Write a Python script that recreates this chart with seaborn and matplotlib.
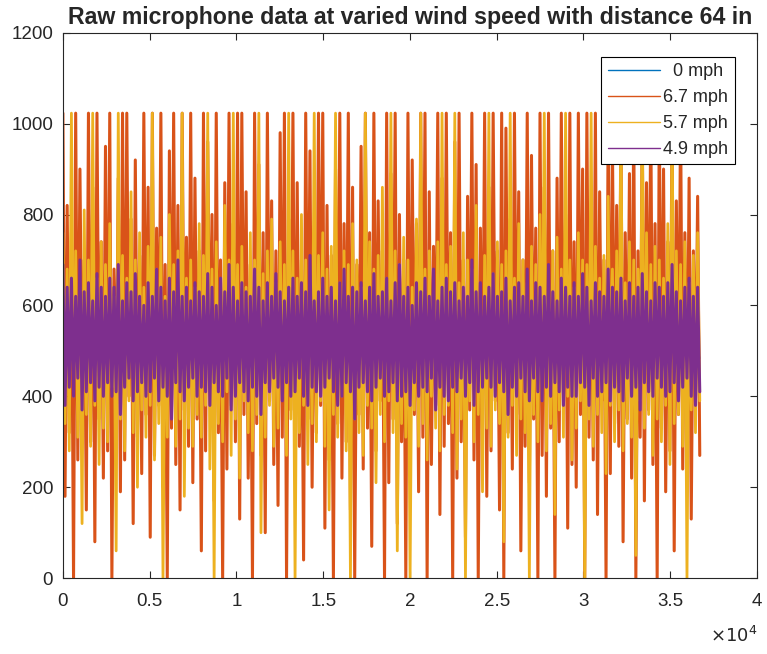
import numpy as np
import pandas as pd
import seaborn as sns
import matplotlib.pyplot as plt

# readings: alternating peak / trough of each wiggle
labels = ['  0 mph', '6.7 mph', '5.7 mph', '4.9 mph']
colors = ['#0072BD', '#D95319', '#EDB120', '#7E2F8E']
widths = [1.2, 2.2, 2.0, 2.2]
n_samples = 36700

blue_hi = [555, 560, 548, 570, 552, 562, 545, 566, 558, 550,
           564, 547, 559, 572, 553, 561, 549, 567, 556, 544,
           563, 551, 569, 557, 546, 565, 554, 560, 548, 571,
           552, 562, 545, 566, 558, 550, 564, 547, 559, 556]
blue_lo = [482, 475, 490, 470, 486, 478, 493, 472, 484, 480,
           468, 488, 476, 491, 473, 485, 479, 494, 471, 483,
           477, 489, 474, 487, 481, 466, 492, 476, 485, 479,
           470, 488, 483, 474, 491, 478, 486, 472, 480, 484]

orange_hi = [1023, 820, 760, 1023, 900, 700, 1023, 860, 1023, 740,
             950, 1023, 680, 880, 1023, 1023, 790, 920, 710, 1023,
             860, 1023, 770, 1023, 690, 940, 1023, 820, 1023, 750,
             1023, 880, 720, 1023, 960, 800, 1023, 700, 870, 1023,
             780, 1023, 1023, 850, 690, 1023, 910, 760, 1023, 830,
             720, 980, 1023, 790, 1023, 870, 700, 1023, 940, 760,
             1023, 1023, 820, 710, 900, 1023, 780, 1023, 860, 690,
             950, 1023, 760, 1023, 830, 720, 1023, 890, 1023, 800,
             700, 1023, 920, 780, 1023, 1023, 850, 730, 1023, 880,
             1023, 760, 960, 1023, 700, 840, 1023, 910, 770, 1023,
             860, 1023, 720, 1023, 990, 790, 1023, 850, 700, 1023,
             930, 770, 1023, 860, 1023, 720, 880, 1023, 800, 1023,
             740, 1023, 900, 1023, 780, 1023, 850, 700, 1023, 960,
             820, 1023, 760, 890, 1023, 720, 1023, 870, 1023, 780,
             1023, 900, 740, 1023, 830, 1023, 760, 880, 720, 840]
orange_lo = [180, 320, 0, 260, 390, 150, 300, 80, 350, 220,
             280, 0, 340, 190, 260, 400, 120, 310, 230, 360,
             90, 270, 380, 200, 0, 330, 250, 150, 370, 290,
             210, 350, 60, 280, 400, 170, 320, 0, 240, 380,
             300, 130, 360, 220, 0, 340, 270, 100, 390, 250,
             160, 310, 0, 370, 230, 290, 40, 350, 200, 320,
             380, 110, 260, 0, 340, 220, 300, 150, 0, 360,
             240, 330, 70, 280, 390, 0, 210, 350, 120, 300,
             0, 270, 360, 190, 310, 0, 250, 380, 140, 290,
             340, 0, 220, 300, 90, 370, 260, 0, 330, 180,
             280, 390, 150, 0, 320, 240, 360, 60, 290, 210,
             350, 0, 270, 180, 330, 0, 300, 380, 110, 250,
             200, 360, 0, 310, 260, 140, 390, 0, 230, 340,
             290, 80, 350, 220, 0, 310, 170, 370, 250, 0,
             330, 190, 280, 60, 360, 240, 310, 130, 380, 270]

yellow_hi = [760, 680, 1023, 720, 640, 810, 700, 1023, 660, 740,
             690, 780, 620, 1023, 710, 660, 850, 700, 760, 640,
             730, 1023, 680, 750, 620, 800, 690, 720, 1023, 660,
             700, 640, 780, 710, 1023, 680, 740, 650, 820, 700,
             1023, 690, 730, 640, 760, 700, 1023, 670, 720, 790,
             650, 740, 690, 1023, 720, 660, 800, 700, 640, 1023,
             710, 760, 680, 730, 1023, 650, 720, 690, 780, 700,
             640, 1023, 740, 680, 710, 860, 660, 1023, 720, 690,
             750, 700, 640, 790, 1023, 680, 720, 660, 740, 1023,
             690, 730, 1023, 650, 760, 700, 680, 820, 640, 710,
             1023, 670, 740, 690, 720, 1023, 660, 780, 700, 650,
             730, 690, 800, 1023, 660, 720, 750, 680, 1023, 700,
             640, 760, 700, 690, 1023, 730, 660, 710, 840, 680,
             720, 1023, 650, 740, 700, 680, 1023, 760, 690, 730,
             700, 660, 780, 1023, 720, 690, 740, 650, 710, 760]
yellow_lo = [340, 280, 400, 310, 120, 360, 290, 380, 250, 330,
             300, 420, 60, 350, 280, 390, 320, 200, 370, 310,
             380, 260, 340, 0, 310, 400, 290, 350, 180, 330,
             290, 360, 310, 380, 240, 0, 340, 300, 410, 270,
             350, 220, 390, 320, 280, 360, 100, 310, 380, 290,
             330, 400, 270, 350, 0, 320, 380, 250, 340, 300,
             390, 290, 150, 360, 310, 400, 280, 0, 350, 320,
             270, 380, 330, 210, 360, 300, 390, 320, 60, 340,
             310, 0, 370, 290, 340, 260, 400, 330, 280, 360,
             380, 320, 240, 350, 0, 390, 300, 360, 190, 330,
             290, 370, 340, 80, 310, 380, 270, 350, 320, 0,
             360, 300, 390, 280, 340, 140, 370, 310, 400, 260,
             330, 390, 0, 350, 290, 360, 320, 230, 380, 300,
             370, 280, 340, 310, 50, 390, 330, 360, 270, 350,
             300, 380, 250, 340, 360, 290, 0, 370, 320, 390]

purple_hi = [690, 640, 660, 620, 700, 630, 650, 610, 670, 640,
             620, 660, 640, 690, 610, 650, 630, 670, 620, 600,
             650, 620, 680, 640, 610, 660, 630, 700, 620, 640,
             610, 650, 630, 620, 670, 640, 600, 660, 630, 690,
             640, 610, 650, 630, 620, 680, 640, 610, 650, 620,
             670, 630, 610, 640, 660, 620, 650, 630, 710, 610,
             630, 660, 620, 640, 610, 650, 680, 620, 640, 630,
             650, 610, 640, 670, 620, 630, 660, 610, 650, 690,
             620, 640, 600, 650, 630, 660, 620, 680, 610, 640,
             660, 630, 650, 610, 640, 620, 700, 630, 650, 620,
             640, 670, 620, 630, 660, 610, 640, 650, 620, 680,
             610, 650, 640, 620, 690, 630, 610, 660, 640, 620,
             650, 620, 670, 640, 610, 650, 630, 620, 680, 640,
             630, 660, 610, 650, 620, 640, 670, 630, 610, 650,
             640, 620, 650, 690, 630, 610, 640, 660, 620, 640]
purple_lo = [380, 420, 400, 440, 370, 410, 430, 390, 420, 400,
             430, 400, 410, 360, 420, 440, 390, 410, 430, 400,
             410, 440, 390, 420, 400, 350, 430, 410, 390, 420,
             440, 400, 420, 410, 380, 430, 410, 400, 440, 370,
             400, 430, 410, 390, 420, 400, 360, 430, 410, 440,
             420, 390, 430, 400, 410, 440, 400, 380, 420, 410,
             400, 420, 440, 410, 380, 400, 430, 410, 350, 420,
             430, 410, 390, 420, 440, 400, 410, 430, 390, 400,
             410, 380, 430, 400, 420, 410, 440, 370, 420, 400,
             390, 420, 410, 440, 400, 430, 380, 410, 420, 440,
             420, 400, 430, 410, 360, 420, 400, 440, 410, 390,
             440, 410, 390, 420, 400, 430, 410, 380, 420, 400,
             400, 430, 420, 380, 440, 400, 410, 430, 390, 420,
             410, 390, 440, 400, 420, 370, 430, 410, 400, 440,
             420, 400, 410, 430, 390, 420, 440, 400, 380, 410]

x_ticks = [0, 5000, 10000, 15000, 20000, 25000, 30000, 35000, 40000]
x_ticklabels = ['0', '0.5', '1', '1.5', '2', '2.5', '3', '3.5', '4']
y_ticks = [0, 200, 400, 600, 800, 1000, 1200]


def wiggle(hi, lo):
    # peak, trough, peak, trough ...
    y = np.empty(len(hi) + len(lo))
    y[0::2] = hi
    y[1::2] = lo
    return y


frames = []
for lab, hi, lo in zip(labels,
                       [blue_hi, orange_hi, yellow_hi, purple_hi],
                       [blue_lo, orange_lo, yellow_lo, purple_lo]):
    y = wiggle(hi, lo)
    frames.append(pd.DataFrame({'sample': np.linspace(0, n_samples, len(y)),
                                'value': y, 'speed': lab}))
df = pd.concat(frames, ignore_index=True)

sns.set_style('ticks')
plt.rcParams['font.family'] = ['Liberation Sans', 'DejaVu Sans']

fig = plt.figure(figsize=(7.67, 6.54), dpi=100)
ax = fig.add_axes([0.082, 0.116, 0.905, 0.834])

sns.lineplot(data=df, x='sample', y='value', hue='speed', hue_order=labels,
             palette=colors, estimator=None, sort=False, lw=1.5, ax=ax)
for line, w in zip(ax.lines, widths):
    line.set_linewidth(w)

ax.set_xlim(0, 40000)
ax.set_ylim(0, 1200)
ax.set_xticks(x_ticks)
ax.set_xticklabels(x_ticklabels)
ax.set_yticks(y_ticks)
ax.set_xlabel('')
ax.set_ylabel('')
ax.tick_params(direction='in', length=5, width=0.8, labelsize=13.5,
               top=True, right=True, colors='#262626')
ax.tick_params(axis='x', pad=11)
ax.tick_params(axis='y', pad=7)
for s in ax.spines.values():
    s.set_color('#262626')
    s.set_linewidth(0.8)

ax.text(1.0, -0.088, r'$\times10^{4}$', transform=ax.transAxes,
        ha='right', va='top', fontsize=13, color='#262626')

ax.set_title('Raw microphone data at varied wind speed with distance 64 in',
             fontsize=16.7, fontweight='bold', pad=6)

handles, labs = ax.get_legend_handles_labels()
leg = ax.legend(handles, labs, loc='upper right', bbox_to_anchor=(0.968, 0.956),
                borderaxespad=0, fancybox=False, edgecolor='black', framealpha=1,
                fontsize=13, handlelength=2.9, labelspacing=0.5,
                handletextpad=0.2, borderpad=0.35)
leg.get_frame().set_linewidth(0.8)
for h in leg.get_lines():
    h.set_linewidth(1.0)

fig.savefig('out.png', dpi=100)
